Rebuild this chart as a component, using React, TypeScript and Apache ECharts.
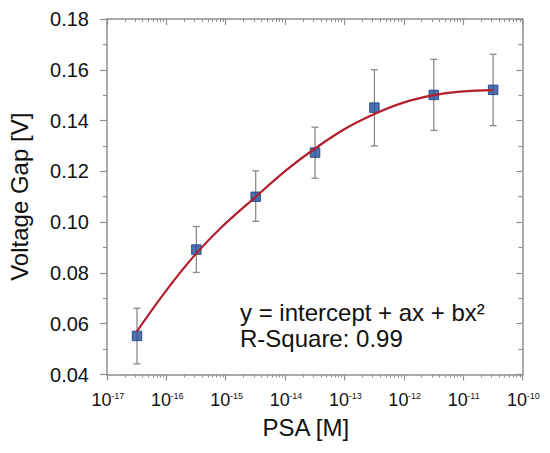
import React, { useEffect, useRef } from 'react';
import * as echarts from 'echarts';

// PSA concentration [M] of each measurement
const concentrations = [3.2e-17, 3.2e-16, 3.2e-15, 3.2e-14, 3.2e-13, 3.2e-12, 3.2e-11];
// mean voltage gap [V]
const voltageGap = [0.0552, 0.0892, 0.11, 0.1274, 0.1451, 0.1501, 0.1521];
// error bar ends [V]
const errLow = [0.0442, 0.0802, 0.1003, 0.1173, 0.13, 0.1361, 0.138];
const errHigh = [0.0661, 0.0983, 0.1202, 0.1374, 0.16, 0.1641, 0.1661];
// fitted curve read at the measurement concentrations [V]
const fitCurve = [0.057, 0.0877, 0.11, 0.129, 0.1426, 0.15, 0.152];
// decade tick values of the x axis (labelled 10^n)
const xDecades = [1e-17, 1e-16, 1e-15, 1e-14, 1e-13, 1e-12, 1e-11, 1e-10];
const minorMultipliers = [2, 3, 4, 5, 6, 7, 8, 9];
const xMinorTicks: number[] = [];
xDecades.slice(0, -1).forEach((d) => minorMultipliers.forEach((m) => xMinorTicks.push(m * d)));

const Y_MIN = 0.04;
const AXIS_COLOR = '#8f8f8f';
const FONT = 'Liberation Sans';

export default function App() {
  const ref = useRef<HTMLDivElement>(null);

  useEffect(() => {
    if (!ref.current) return;
    const chart = echarts.init(ref.current, undefined, { renderer: 'svg' });

    const logBase = {
      type: 'log' as const,
      logBase: 10,
      min: 1e-17,
      max: 1e-10,
      interval: 1,
      splitLine: { show: false },
      gridIndex: 0,
    };

    const option: any = {
      animation: false,
      backgroundColor: '#ffffff',
      textStyle: { fontFamily: FONT, color: '#111' },
      grid: { left: 107, right: 27.5, top: 19, bottom: 78.5, outerBoundsMode: 'none' },
      xAxis: [
        {
          ...logBase,
          position: 'bottom',
          name: 'PSA [M]',
          nameLocation: 'middle',
          nameGap: 41,
          nameTextStyle: { fontSize: 24, color: '#111', fontFamily: FONT, padding: [0, 18, 0, 0] },
          axisLine: { show: true, lineStyle: { color: AXIS_COLOR, width: 1.5 } },
          axisTick: { show: true, inside: false, length: 6, lineStyle: { color: AXIS_COLOR, width: 1.2 } },
          axisLabel: { show: false },
        },
        {
          ...logBase,
          position: 'bottom',
          axisLine: { show: false },
          axisLabel: { show: false },
          axisTick: {
            show: true,
            inside: false,
            length: 3,
            customValues: xMinorTicks,
            lineStyle: { color: AXIS_COLOR, width: 1 },
          },
        },
        {
          ...logBase,
          position: 'top',
          axisLine: { show: true, lineStyle: { color: AXIS_COLOR, width: 1.5 } },
          axisLabel: { show: false },
          axisTick: { show: true, inside: true, length: 6, lineStyle: { color: AXIS_COLOR, width: 1.2 } },
        },
        {
          ...logBase,
          position: 'top',
          axisLine: { show: false },
          axisLabel: { show: false },
          axisTick: {
            show: true,
            inside: true,
            length: 3,
            customValues: xMinorTicks,
            lineStyle: { color: AXIS_COLOR, width: 1 },
          },
        },
      ],
      yAxis: [
        {
          type: 'value',
          position: 'left',
          min: 0.04,
          max: 0.18,
          interval: 0.02,
          name: 'Voltage Gap [V]',
          nameLocation: 'middle',
          nameGap: 76,
          nameRotate: 90,
          nameTextStyle: { fontSize: 24, color: '#111', fontFamily: FONT },
          splitLine: { show: false },
          axisLine: { show: true, lineStyle: { color: AXIS_COLOR, width: 1.5 } },
          axisTick: { show: true, inside: false, length: 7, lineStyle: { color: AXIS_COLOR, width: 1.2 } },
          minorTick: { show: true, splitNumber: 2, length: 4, lineStyle: { color: AXIS_COLOR, width: 1.2 } },
          axisLabel: {
            margin: 18,
            color: '#111',
            fontSize: 20,
            fontFamily: FONT,
            formatter: (v: number) => v.toFixed(2),
          },
        },
        {
          type: 'value',
          position: 'right',
          min: 0.04,
          max: 0.18,
          interval: 0.02,
          splitLine: { show: false },
          axisLine: { show: true, lineStyle: { color: AXIS_COLOR, width: 1.5 } },
          axisTick: { show: true, inside: true, length: 6, lineStyle: { color: AXIS_COLOR, width: 1.2 } },
          minorTick: { show: true, splitNumber: 2, length: 4, lineStyle: { color: AXIS_COLOR, width: 1.2 } },
          axisLabel: { show: false },
        },
      ],
      series: [
        {
          // x-axis tick labels 10^n, placed through the log axis scale
          type: 'custom',
          name: 'xlabels',
          xAxisIndex: 0,
          yAxisIndex: 0,
          clip: false,
          silent: true,
          z: 5,
          data: xDecades.map((d) => [d, Y_MIN]),
          encode: { x: 0, y: 1 },
          renderItem: (params: any, api: any) => {
            const v = api.value(0);
            const p = api.coord([v, api.value(1)]);
            const exp = Math.round(Math.log10(v));
            return {
              type: 'group',
              children: [
                {
                  type: 'text',
                  x: p[0] - 5.4,
                  y: p[1] + 25,
                  style: {
                    text: '10',
                    fontSize: 18,
                    fontFamily: FONT,
                    fill: '#111',
                    align: 'center',
                    verticalAlign: 'middle',
                  },
                },
                {
                  type: 'text',
                  x: p[0] + 4.2,
                  y: p[1] + 21.5,
                  style: {
                    text: '-' + String(-exp),
                    fontSize: 9,
                    fontFamily: FONT,
                    fill: '#111',
                    align: 'left',
                    verticalAlign: 'middle',
                  },
                },
              ],
            };
          },
        },
        {
          type: 'custom',
          name: 'error',
          xAxisIndex: 0,
          yAxisIndex: 0,
          z: 2,
          data: concentrations.map((c, i) => [c, errLow[i], errHigh[i]]),
          encode: { x: 0, y: [1, 2] },
          renderItem: (params: any, api: any) => {
            const x = api.value(0);
            const lo = api.coord([x, api.value(1)]);
            const hi = api.coord([x, api.value(2)]);
            const w = 3.5;
            const style = { stroke: '#8a8a8a', lineWidth: 1.3 };
            return {
              type: 'group',
              children: [
                { type: 'line', shape: { x1: lo[0], y1: lo[1], x2: hi[0], y2: hi[1] }, style },
                { type: 'line', shape: { x1: lo[0] - w, y1: lo[1], x2: lo[0] + w, y2: lo[1] }, style },
                { type: 'line', shape: { x1: hi[0] - w, y1: hi[1], x2: hi[0] + w, y2: hi[1] }, style },
              ],
            };
          },
        },
        {
          type: 'scatter',
          name: 'data',
          xAxisIndex: 0,
          yAxisIndex: 0,
          z: 3,
          symbol: 'rect',
          symbolSize: 9.5,
          itemStyle: { color: '#1f4f9e', borderColor: '#173a7a', borderWidth: 1 },
          data: concentrations.map((c, i) => [c, voltageGap[i]]),
        },
        {
          type: 'line',
          name: 'fit',
          xAxisIndex: 0,
          yAxisIndex: 0,
          z: 4,
          smooth: 0.4,
          showSymbol: false,
          symbol: 'none',
          lineStyle: { color: '#b11f2a', width: 2.2 },
          data: concentrations.map((c, i) => [c, fitCurve[i]]),
        },
      ],
      graphic: [
        {
          type: 'text',
          left: 240,
          top: 300,
          style: {
            text: 'y = intercept + ax + bx²',
            fontSize: 24,
            fill: '#111',
            fontFamily: FONT,
          },
        },
        {
          type: 'text',
          left: 240,
          top: 326,
          style: {
            text: 'R-Square: 0.99',
            fontSize: 24,
            fill: '#111',
            fontFamily: FONT,
          },
        },
      ],
    };

    chart.setOption(option);
    return () => chart.dispose();
  }, []);

  return (
    <div
      ref={ref}
      style={{ position: 'fixed', left: 0, top: 0, width: 550, height: 453, background: '#fff' }}
    />
  );
}
